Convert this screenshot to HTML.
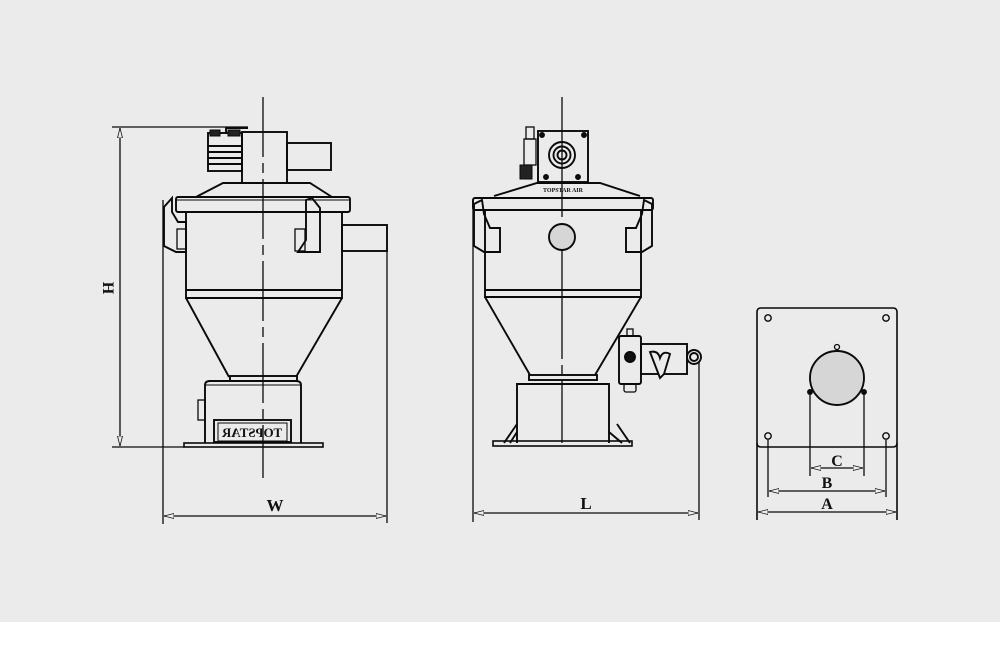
<!DOCTYPE html>
<html><head><meta charset="utf-8"><style>
html,body{margin:0;padding:0;background:#fff;}
svg{display:block;}
text{font-family:"Liberation Serif",serif;font-weight:bold;fill:#111;}
</style></head><body>
<svg width="1000" height="662" viewBox="0 0 1000 662" xmlns="http://www.w3.org/2000/svg">
<defs>
<marker id="a" viewBox="0 0 10 6" refX="10" refY="3" markerWidth="10" markerHeight="6" orient="auto-start-reverse" markerUnits="userSpaceOnUse">
<path d="M0,0.5 L10,3 L0,5.5 Z" fill="#eee" stroke="#111" stroke-width="0.8"/>
</marker>
</defs>
<rect x="0" y="0" width="1000" height="622" fill="#ebebeb"/>
<g fill="none" stroke="#0a0a0a" stroke-width="1.9">
<!-- ===== LEFT VIEW ===== -->
<line x1="263" y1="97" x2="263" y2="478" stroke-width="1.3" stroke-dasharray="60,6,10,6"/>
<line x1="112" y1="127" x2="248" y2="127" stroke-width="1.3"/>
<line x1="112" y1="447" x2="184" y2="447" stroke-width="1.3"/>
<line x1="120" y1="128" x2="120" y2="446" stroke-width="1.3" marker-start="url(#a)" marker-end="url(#a)"/>
<rect x="208" y="133" width="34" height="38" fill="#ebebeb"/>
<line x1="208" y1="146" x2="242" y2="146"/><line x1="208" y1="152" x2="242" y2="152"/><line x1="208" y1="158" x2="242" y2="158"/><line x1="208" y1="164" x2="242" y2="164"/>
<rect x="210" y="130" width="10" height="6" fill="#222" stroke-width="1"/>
<rect x="228" y="130" width="12" height="6" fill="#222" stroke-width="1"/>
<path d="M226,133 V128 H248"/>
<rect x="242" y="132" width="45" height="51"/>
<rect x="287" y="143" width="44" height="27"/>
<path d="M196,197 L223,183 L310,183 L332,197"/>
<rect x="176" y="197" width="174" height="15" rx="2"/>
<line x1="176" y1="200" x2="350" y2="200" stroke-width="1"/>
<path d="M186,212 V298 H342 V212"/>
<line x1="186" y1="290" x2="342" y2="290"/>
<path d="M186,298 L229,377 M342,298 L296,377"/>
<rect x="230" y="376" width="67" height="5"/>
<path d="M205,443 V385 Q205,381 210,381 H296 Q301,381 301,385 V443"/>
<line x1="205" y1="385" x2="301" y2="385" stroke-width="1"/>
<rect x="214" y="420" width="77" height="22"/>
<rect x="218" y="423" width="69" height="18" stroke-width="1"/>
<rect x="184" y="443" width="139" height="4" stroke-width="1.6"/>
<rect x="198" y="400" width="7" height="20" stroke-width="1.3"/>
<path d="M172,198 L164,207 V246 L176,252 H186 V222 H178 L172,212 Z"/>
<rect x="177" y="229" width="9" height="20" stroke-width="1.3"/>
<path d="M306,200 V240 L298,252 H320 V208 L312,198 Z"/>
<rect x="295" y="229" width="10" height="22" stroke-width="1.3"/>
<rect x="342" y="225" width="45" height="26"/>
<line x1="387" y1="251" x2="387" y2="523" stroke-width="1.3"/>
<line x1="163" y1="200" x2="163" y2="524" stroke-width="1.3"/>
<line x1="164" y1="516" x2="386" y2="516" stroke-width="1.3" marker-start="url(#a)" marker-end="url(#a)"/>

<!-- ===== MIDDLE VIEW ===== -->
<line x1="562" y1="97" x2="562" y2="443" stroke-width="1.3" stroke-dasharray="120,6,10,6"/>
<rect x="538" y="131" width="50" height="51"/>
<circle cx="562" cy="155" r="13"/><circle cx="562" cy="155" r="8.5"/><circle cx="562" cy="155" r="4.5"/>
<circle cx="542" cy="135" r="2" fill="#111"/><circle cx="584" cy="135" r="2" fill="#111"/>
<circle cx="546" cy="177" r="2" fill="#111"/><circle cx="578" cy="177" r="2" fill="#111"/>
<rect x="526" y="127" width="8" height="12" stroke-width="1.3"/>
<rect x="524" y="139" width="12" height="26" stroke-width="1.3"/>
<rect x="520" y="165" width="12" height="14" fill="#222" stroke-width="1"/>
<path d="M494,196 L537,183 L600,183 L640,196"/>
<rect x="473" y="198" width="180" height="12" rx="2"/>
<path d="M485,210 V297 H641 V210"/>
<line x1="485" y1="290" x2="641" y2="290"/>
<circle cx="562" cy="237" r="13" fill="#d6d6d6"/>
<path d="M485,297 L530,375 M641,297 L595,375"/>
<rect x="529" y="375" width="68" height="5"/>
<path d="M517,443 V384 H609 V443"/>
<path d="M504,443 L517,424 M617,424 L630,443 M510,443 L517,432 M609,432 L622,443"/>
<rect x="493" y="441" width="139" height="5" stroke-width="1.6"/>
<path d="M482,200 L474,204 V246 L484,252 H500 V228 H490 L484,214 Z"/>
<path d="M644,200 L652,204 V246 L642,252 H626 V228 H636 L642,214 Z"/>
<rect x="619" y="336" width="22" height="48" rx="2"/>
<rect x="627" y="329" width="6" height="7" stroke-width="1.3"/>
<rect x="624" y="384" width="12" height="8" rx="2" stroke-width="1.3"/>
<circle cx="630" cy="357" r="5" fill="#111"/>
<rect x="641" y="344" width="46" height="30"/>
<path d="M650,352 Q658,350 660,358 Q663,350 670,354 L664,374 L660,378 Z" fill="#ebebeb"/>
<circle cx="694" cy="357" r="7"/><circle cx="694" cy="357" r="4"/>
<line x1="699" y1="362" x2="699" y2="520" stroke-width="1.3"/>
<line x1="473" y1="200" x2="473" y2="522" stroke-width="1.3"/>
<line x1="474" y1="513" x2="698" y2="513" stroke-width="1.3" marker-start="url(#a)" marker-end="url(#a)"/>

<!-- ===== RIGHT VIEW ===== -->
<path d="M757,520 V312 Q757,308 761,308 H893 Q897,308 897,312 V520" stroke-width="1.6"/>
<path d="M757,443 Q757,447 761,447 H893 Q897,447 897,443" stroke-width="1.6"/>
<circle cx="768" cy="318" r="3.2" stroke-width="1.4"/><circle cx="886" cy="318" r="3.2" stroke-width="1.4"/>
<circle cx="768" cy="436" r="3.2" stroke-width="1.4"/><circle cx="886" cy="436" r="3.2" stroke-width="1.4"/>
<circle cx="837" cy="378" r="27" fill="#d6d6d6"/>
<circle cx="837" cy="347" r="2.5" stroke-width="1.3"/>
<circle cx="810" cy="392" r="2" fill="#111"/><circle cx="864" cy="392" r="2" fill="#111"/>
<line x1="810" y1="392" x2="810" y2="476" stroke-width="1.3"/>
<line x1="864" y1="392" x2="864" y2="476" stroke-width="1.3"/>
<line x1="811" y1="468" x2="863" y2="468" stroke-width="1.3" marker-start="url(#a)" marker-end="url(#a)"/>
<line x1="768" y1="440" x2="768" y2="497" stroke-width="1.3"/>
<line x1="886" y1="440" x2="886" y2="497" stroke-width="1.3"/>
<line x1="769" y1="491" x2="885" y2="491" stroke-width="1.3" marker-start="url(#a)" marker-end="url(#a)"/>
<line x1="758" y1="512" x2="896" y2="512" stroke-width="1.3" marker-start="url(#a)" marker-end="url(#a)"/>
</g>
<text x="252" y="437" font-size="13" text-anchor="middle" transform="scale(-1,1) translate(-504,0)">TOPSTAR</text>
<text x="563" y="192" font-size="6" text-anchor="middle">TOPSTAR AIR</text>
<text x="108" y="288" font-size="16" text-anchor="middle" transform="rotate(90 108 288)" dy="5">H</text>
<text x="275" y="511" font-size="17" text-anchor="middle">W</text>
<text x="586" y="509" font-size="17" text-anchor="middle">L</text>
<text x="837" y="466" font-size="16" text-anchor="middle">C</text>
<text x="827" y="488" font-size="16" text-anchor="middle">B</text>
<text x="827" y="509" font-size="16" text-anchor="middle">A</text>
</svg>
</body></html>
